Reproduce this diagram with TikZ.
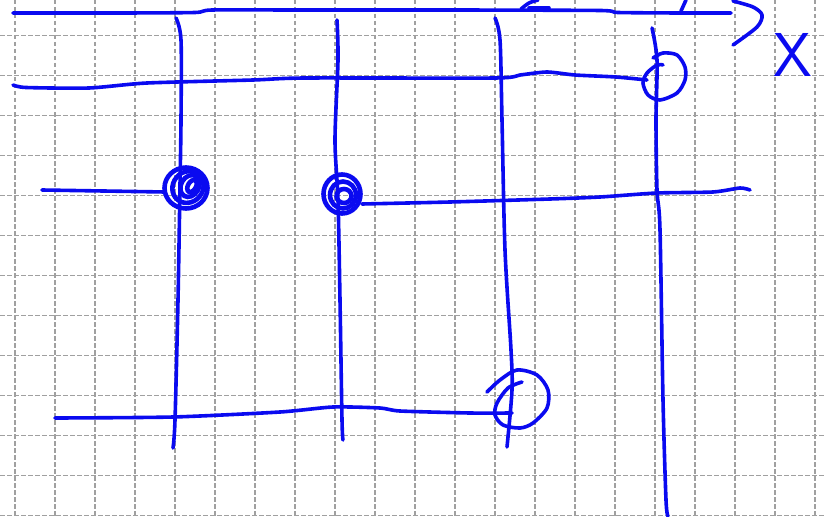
\documentclass[tikz,border=0pt]{standalone}
\definecolor{inkblue}{RGB}{10,10,240}
\definecolor{gridgray}{RGB}{160,160,160}
\begin{document}
\begin{tikzpicture}[x=1pt,y=-1pt,
  gridline/.style={draw=gridgray, line width=1.3pt, dash pattern=on 4.5pt off 2.5pt},
  ink/.style={draw=inkblue, line width=3.6pt, line cap=round, line join=round},
  scribble/.style={draw=inkblue, line width=4.6pt},
]
\useasboundingbox (0,0) rectangle (826,516);
\fill[white] (0,0) rectangle (826,516);
% grid
\foreach \k in {0,...,20} \draw[gridline] ({15+40*\k},0) -- ({15+40*\k},516);
\foreach \k in {0,...,12} \draw[gridline] (0,{35.5+40*\k}) -- (826,{35.5+40*\k});

% x axis and arrow
\draw[ink] plot[smooth,tension=0.4] coordinates {(13,13) (120,13) (195,12.5) (212,10) (300,10) (450,10) (600,10.5) (618,12.5) (680,13) (731,13)};
\draw[ink] plot[smooth] coordinates {(733,1) (753,7) (762,15) (757,27) (733,45)};
\draw[ink] plot[smooth] coordinates {(521,9) (529,3) (538,0)};
\draw[ink] (529,8) -- (549,8);
\draw[ink] (681,11) -- (686,0);
\node[text=inkblue, font=\sffamily\fontsize{62}{62}\selectfont, inner sep=0pt] (xlab) at (793,55) {X};

% vertical lines
\draw[ink] plot[smooth] coordinates {(176,18) (181,40) (181,120) (180,185) (178,300) (175,420) (173,448)};
\draw[ink] plot[smooth] coordinates {(337,20) (338,60) (335,140) (338,200) (340,300) (342,420) (343,440)};
\draw[ink] plot[smooth] coordinates {(495,18) (500,40) (502,120) (505,250) (511,350) (512,390) (507,447)};
\draw[ink] plot[smooth] coordinates {(652,28) (657,60) (656,120) (657,190) (660,230) (663,400) (666,500) (668,516)};

% second horizontal line with open circle
\draw[ink] plot[smooth,tension=0.4] coordinates {(13,85) (26,87.5) (89,88) (147,83) (253,80) (305,78) (495,78) (520,75) (547,72) (575,75) (616,77) (647,80)};
\draw[ink] plot[smooth] coordinates {(653,58) (663,53) (677,55) (685,67) (685,80) (677,93) (660,100) (648,95) (643,83) (647,73) (657,65) (663,65)};

% middle horizontal lines with scribbled filled dots
\draw[ink] (42,190) -- (165,192);
\draw[ink] plot[smooth,tension=0.4] coordinates {(362,204) (450,202) (550,199) (600,197) (657,193) (713,192) (740,188) (750,190)};
\draw[scribble] (186,188) ellipse (21.5pt and 20.5pt);
\draw[scribble, rotate around={50:(188,187)}] (188,187) ellipse (16.5pt and 15pt);
\draw[scribble, rotate around={60:(190,186)}] (190,186) ellipse (11.5pt and 9pt);
\draw[scribble, rotate around={60:(192,186)}] (192,186) ellipse (6.5pt and 4pt);
\draw[scribble] (342,194) ellipse (18.5pt and 19.5pt);
\draw[scribble] (343,195) ellipse (13pt and 13.5pt);
\draw[scribble] (344,196) ellipse (7.5pt and 7pt);

% bottom horizontal line with open circle
\draw[ink] plot[smooth,tension=0.4] coordinates {(55,418) (173,417) (280,412) (333,407) (380,408) (400,411) (470,413) (512,413)};
\draw[ink] plot[smooth] coordinates {(487,392) (500,380) (517,370) (537,375) (548,390) (547,408) (533,423) (520,428) (503,425) (495,415) (497,403) (508,388) (522,382)};
\end{tikzpicture}
\end{document}
